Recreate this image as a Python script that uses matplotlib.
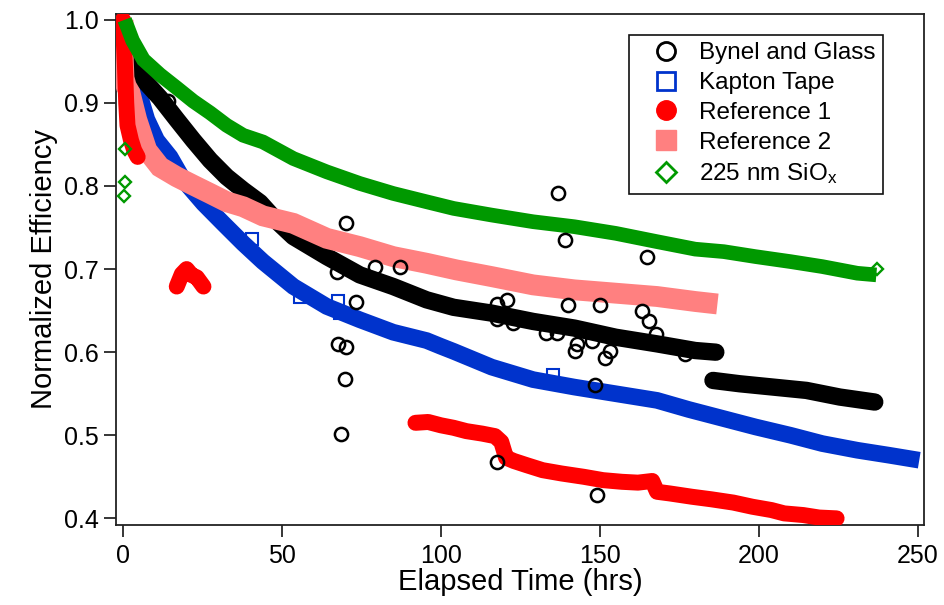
import numpy as np
import matplotlib
matplotlib.use("Agg")
import matplotlib.pyplot as plt
from matplotlib.lines import Line2D

plt.rcParams['font.family'] = ['Liberation Sans', 'DejaVu Sans']
plt.rcParams['mathtext.fontset'] = 'custom'
plt.rcParams['mathtext.rm'] = 'Liberation Sans'
plt.rcParams['mathtext.it'] = 'Liberation Sans'

nan = float('nan')

# Bynel and Glass (main trace, gap at ~186 h)
bynel_t = [1, 2.2, 6.4, 11.6, 16.9, 22.1, 27.4, 32.6, 37.8, 43.1, 48.3, 53.6, 64.1,
           74.5, 85, 95.5, 104, 116, 129, 142, 155, 168, 180, 186.5,
           nan, 185.6, 194, 204.5, 215, 225.5, 236.5]
bynel_e = [0.975, 0.956, 0.928, 0.906, 0.880, 0.855, 0.831, 0.811, 0.795, 0.780, 0.758,
           0.739, 0.715, 0.693, 0.679, 0.663, 0.654, 0.647, 0.637, 0.629, 0.618, 0.610,
           0.602, 0.600,
           nan, 0.566, 0.562, 0.558, 0.554, 0.546, 0.540]
# Bynel and Glass scattered points
bynel_out_t = [67.2, 70.3, 79.4, 87.1, 73.3, 67.7, 70.3, 69.8, 68.5, 137, 139.1, 164.7,
               140, 150, 117.5, 120.7, 117.5, 122.7, 133, 136.4, 142.7, 142.1, 147.4,
               153.1, 151.6, 163.4, 165.5, 167.6, 176.7, 148.4, 117.6, 149, 14.3]
bynel_out_e = [0.697, 0.756, 0.703, 0.703, 0.660, 0.610, 0.606, 0.568, 0.502, 0.791,
               0.735, 0.715, 0.657, 0.657, 0.658, 0.663, 0.640, 0.635, 0.623, 0.623,
               0.610, 0.601, 0.614, 0.602, 0.593, 0.650, 0.638, 0.622, 0.598, 0.560,
               0.468, 0.428, 0.902]

# Kapton Tape
kapton_t = [0, 1, 2, 3.2, 5.3, 7.5, 10.6, 14.8, 19, 25.3, 31.5, 37.8, 44, 53.6, 64.1,
            74.5, 85, 95.5, 100, 104, 116, 129, 142, 155, 168, 178, 189, 199, 210, 220,
            231, 241, 250.5]
kapton_e = [0.99, 0.975, 0.96, 0.944, 0.908, 0.880, 0.855, 0.835, 0.807, 0.779, 0.755,
            0.731, 0.709, 0.679, 0.655, 0.639, 0.624, 0.614, 0.607, 0.601, 0.582, 0.567,
            0.558, 0.550, 0.542, 0.531, 0.520, 0.510, 0.500, 0.490, 0.482, 0.476, 0.470]
kapton_out_t = [40.5, 55.7, 67.7, 68.2, 135.3]
kapton_out_e = [0.736, 0.667, 0.662, 0.647, 0.572]

# Reference 1 (three separate runs)
ref1_t = [0, 0.3, 0.6, 1.0, 1.4, 2.5, 3.5, 4.6,
          nan, 16.9, 18.5, 20, 21.5, 23.2, 25.3,
          nan, 92, 96, 100, 104, 108, 113, 117, 119, 120.5, 123, 127, 132, 138, 145,
          151, 157, 162, 166.5, 168, 172, 179, 185, 192, 198, 204, 208, 214, 219, 224.5]
ref1_e = [1.0, 0.97, 0.945, 0.90, 0.873, 0.855, 0.843, 0.835,
          nan, 0.679, 0.694, 0.700, 0.693, 0.690, 0.679,
          nan, 0.515, 0.516, 0.512, 0.509, 0.505, 0.502, 0.499, 0.492, 0.473, 0.469,
          0.464, 0.458, 0.454, 0.450, 0.446, 0.444, 0.443, 0.445, 0.432, 0.430, 0.426,
          0.423, 0.419, 0.414, 0.410, 0.406, 0.404, 0.401, 0.400]

# Reference 2
ref2_t = [0, 0, 0.3, 1, 2.2, 4.3, 7.5, 11.6, 16.9, 22.1, 27.4, 32.6, 37.8, 44, 53.6,
          64.1, 74.5, 85, 95.5, 104.9, 115.9, 129, 142, 155, 168, 180, 187]
ref2_e = [1.0, 0.96, 0.93, 0.92, 0.912, 0.880, 0.843, 0.823, 0.811, 0.801, 0.791, 0.781,
          0.775, 0.764, 0.755, 0.737, 0.727, 0.715, 0.707, 0.699, 0.691, 0.681, 0.675,
          0.671, 0.667, 0.661, 0.658]

# 225 nm SiOx
siox_t = [0.5, 1.5, 3, 6.4, 11.6, 16.9, 22.1, 27.4, 32.6, 37.8, 44, 53.6, 64.1, 74.5,
          85, 95.5, 104, 116, 129, 142, 155, 168, 180, 189, 199, 210, 220, 231, 237]
siox_e = [1.0, 0.99, 0.975, 0.952, 0.934, 0.918, 0.902, 0.888, 0.873, 0.861, 0.853,
          0.833, 0.817, 0.803, 0.791, 0.781, 0.773, 0.765, 0.757, 0.751, 0.743, 0.733,
          0.724, 0.721, 0.715, 0.709, 0.703, 0.695, 0.693]
siox_out_t = [0.6, 0.6, 0.3, 237.3]
siox_out_e = [0.845, 0.805, 0.788, 0.700]

labels = ['Bynel and Glass', 'Kapton Tape', 'Reference 1', 'Reference 2',
          '225 nm SiO$_\\mathregular{x}$']

c_black = '#000000'
c_blue = '#0033CC'
c_red = '#FF0000'
c_pink = '#FF8080'
c_green = '#009900'

fig = plt.figure(figsize=(9.45, 6.05), dpi=100)
ax = fig.add_axes([0.1228, 0.1322, 0.8550, 0.8447])

# dense traces drawn as thick bands
ax.plot(kapton_t, kapton_e, color=c_blue, lw=12, solid_capstyle='butt',
        solid_joinstyle='miter', zorder=2)
ax.plot(bynel_t, bynel_e, color=c_black, lw=12.5, solid_capstyle='round',
        solid_joinstyle='round', zorder=3)
ax.plot(ref2_t, ref2_e, color=c_pink, lw=15, solid_capstyle='butt',
        solid_joinstyle='miter', zorder=4)
ax.plot(ref1_t, ref1_e, color=c_red, lw=11.5, solid_capstyle='round',
        solid_joinstyle='round', zorder=5)
ax.plot(siox_t, siox_e, color=c_green, lw=10.5, solid_capstyle='butt',
        solid_joinstyle='miter', zorder=6)

# single points
ax.plot(bynel_out_t, bynel_out_e, ls='none', marker='o', ms=9.5, mfc='none',
        mec=c_black, mew=1.8, zorder=7)
ax.plot(kapton_out_t, kapton_out_e, ls='none', marker='s', ms=8, mfc='none',
        mec=c_blue, mew=1.5, zorder=2.5)
ax.plot(siox_out_t, siox_out_e, ls='none', marker='D', ms=6.5, mfc='none',
        mec=c_green, mew=1.7, zorder=7)

ax.set_xlim(-2.2, 252)
ax.set_ylim(0.392, 1.007)
ax.set_xticks([0, 50, 100, 150, 200, 250])
ax.set_yticks([0.4, 0.5, 0.6, 0.7, 0.8, 0.9, 1.0])
ax.set_yticklabels(['0.4', '0.5', '0.6', '0.7', '0.8', '0.9', '1.0'])
ax.tick_params(direction='out', length=8.5, width=1.1, labelsize=18, pad=4)
ax.tick_params(axis='x', pad=5)
for s in ax.spines.values():
    s.set_linewidth(1.3)
    s.set_color('#222222')

ax.set_xlabel('Elapsed Time (hrs)', fontsize=21, labelpad=0)
ax.set_ylabel('Normalized Efficiency', fontsize=21, labelpad=4)

handles = [
    Line2D([], [], ls='none', marker='o', ms=13, mfc='none', mec=c_black, mew=2),
    Line2D([], [], ls='none', marker='s', ms=13, mfc='none', mec=c_blue, mew=2),
    Line2D([], [], ls='none', marker='o', ms=14, mfc=c_red, mec=c_red),
    Line2D([], [], ls='none', marker='s', ms=14, mfc=c_pink, mec=c_pink),
    Line2D([], [], ls='none', marker='D', ms=10, mfc='none', mec=c_green, mew=2),
]
leg = ax.legend(handles, labels, loc='upper right', bbox_to_anchor=(0.949, 0.959),
                borderaxespad=0, fontsize=17.5, frameon=True, fancybox=False,
                edgecolor='#111111', framealpha=1, labelspacing=0.32,
                handlelength=2.5, handletextpad=0.1, borderpad=0.3)
leg.get_frame().set_linewidth(1.2)
leg.set_zorder(10)

fig.savefig('out.png', dpi=100)
